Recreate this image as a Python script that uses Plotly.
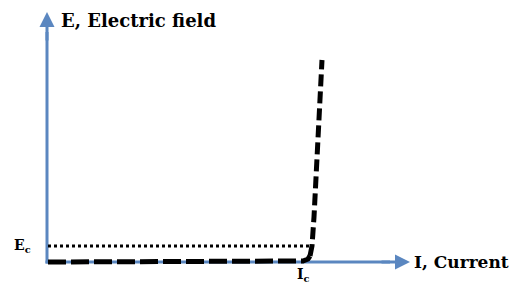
import plotly.graph_objects as go

# Data (arbitrary units: current I, electric field E)
I_flat = [1, 250, 256, 261, 263]
E_flat = [0, 0, 1, 3, 6]
I_rise = [263, 265, 267, 270, 273, 275]
E_rise = [6, 16, 45, 100, 160, 202]
Ec = 16
Ic = 262
I_axis_max = 363
E_axis_max = 250

axis_color = "#5B87C0"
font_family = "DejaVu Serif, serif"

fig = go.Figure()

# axis lines drawn beneath the data
fig.add_shape(type="line", x0=-1.5, y0=0, x1=I_axis_max - 20, y1=0, xref="x", yref="y",
              line=dict(color=axis_color, width=3), layer="below")
fig.add_shape(type="line", x0=0, y0=-1.5, x1=0, y1=E_axis_max - 20, xref="x", yref="y",
              line=dict(color=axis_color, width=3), layer="below")

# dotted Ec line
fig.add_trace(go.Scatter(x=[1, Ic + 1], y=[Ec, Ec], mode="lines",
                         line=dict(color="black", width=3, dash="3px,3px"),
                         hoverinfo="skip"))
# dashed characteristic: flat part
fig.add_trace(go.Scatter(x=I_flat, y=E_flat, mode="lines",
                         line=dict(color="black", width=5, dash="18px,5px"),
                         hoverinfo="skip"))
# dashed characteristic: rising part
fig.add_trace(go.Scatter(x=I_rise, y=E_rise, mode="lines",
                         line=dict(color="black", width=5, dash="12px,5px"),
                         hoverinfo="skip"))

# arrow heads
fig.add_annotation(x=I_axis_max, y=0, ax=I_axis_max - 30, ay=0, xref="x", yref="y",
                   axref="x", ayref="y",
                   showarrow=True, arrowhead=2, arrowsize=1, arrowwidth=3,
                   arrowcolor=axis_color, text="")
fig.add_annotation(x=0, y=E_axis_max, ax=0, ay=E_axis_max - 30, xref="x", yref="y",
                   axref="x", ayref="y",
                   showarrow=True, arrowhead=2, arrowsize=1, arrowwidth=3,
                   arrowcolor=axis_color, text="")

# labels
fig.add_annotation(x=12, y=242, text="<b>E, Electric field</b>", showarrow=False,
                   xanchor="left", yanchor="middle",
                   font=dict(family=font_family, size=18, color="black"))
fig.add_annotation(x=365, y=0, text="<b>I, Current</b>", showarrow=False,
                   xanchor="left", yanchor="middle",
                   font=dict(family=font_family, size=17, color="black"))
fig.add_annotation(x=-25, y=Ec, text="<b>E<sub>c</sub></b>", showarrow=False,
                   xanchor="center", yanchor="middle",
                   font=dict(family=font_family, size=14, color="black"))
fig.add_annotation(x=Ic - 6, y=-13, text="<b>I<sub>c</sub></b>", showarrow=False,
                   xanchor="center", yanchor="middle",
                   font=dict(family=font_family, size=14, color="black"))

fig.update_layout(
    width=510, height=277,
    margin=dict(l=0, r=0, t=0, b=0, autoexpand=False),
    paper_bgcolor="white", plot_bgcolor="white",
    showlegend=False,
    xaxis=dict(range=[-39, 471], visible=False, fixedrange=True),
    yaxis=dict(range=[-23, 254], visible=False, fixedrange=True),
)

fig.write_html("out.html")
